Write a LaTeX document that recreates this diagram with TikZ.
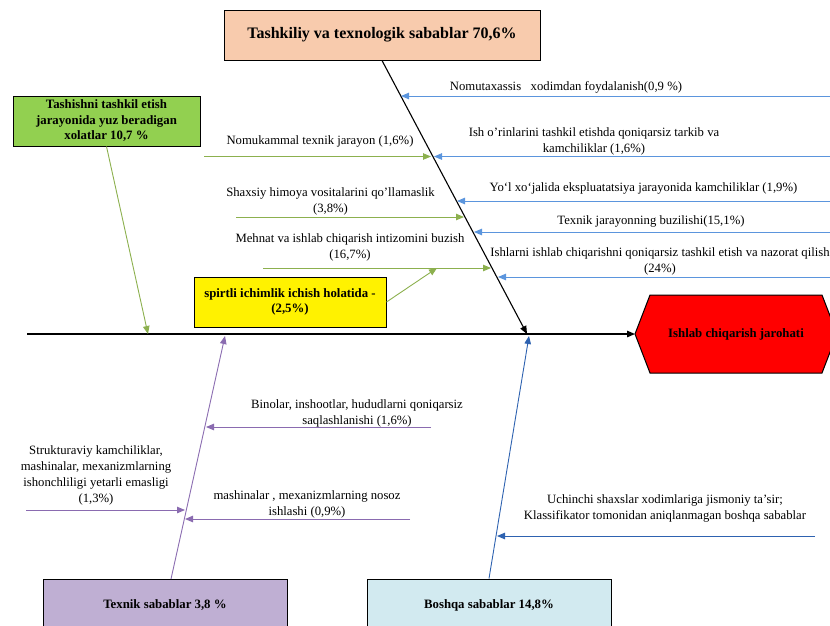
\documentclass[tikz,border=0pt]{standalone}
\usepackage{fontspec}
\setmainfont{Liberation Serif}
\usetikzlibrary{arrows.meta,calc}
\definecolor{peach}{HTML}{F8CBAD}
\definecolor{grfill}{HTML}{92D050}
\definecolor{pufill}{HTML}{BFAFD3}
\definecolor{blfill}{HTML}{D2EAF0}
\definecolor{lblue}{HTML}{5B95DD}
\definecolor{gline}{HTML}{8CB04E}
\definecolor{pline}{HTML}{8A6BB0}
\definecolor{dblue}{HTML}{2E62B0}
\begin{document}
\begin{tikzpicture}[x=1pt,y=-1pt,
  boxst/.style={draw=black,line width=1pt,inner sep=0pt,align=center,
    font=\fontsize{12.8}{15.5}\selectfont\bfseries},
  lbl/.style={align=center,inner sep=0pt,font=\fontsize{12.7}{16}\selectfont},
  arr/.style={-{Triangle[length=8pt,width=6.5pt]},line width=0.9pt}]
\useasboundingbox (0,0) rectangle (830,625);
\clip (0,0) rectangle (830,625);

% boxes
\node[boxst,fill=peach,minimum width=316,minimum height=50,
  font=\fontsize{16}{19}\selectfont\bfseries] (org) at (382,35) {Tashkiliy va texnologik sabablar 70,6\%};
\node[boxst,fill=grfill,minimum width=187,minimum height=50] (grn) at (106.5,121)
  {Tashishni tashkil etish\\jarayonida yuz beradigan\\xolatlar 10,7 \%};
\node[boxst,fill=yellow,minimum width=192,minimum height=50] (yel) at (290,302)
  {spirtli ichimlik ichish holatida -\\(2,5\%)};
\node[boxst,fill=pufill,minimum width=244,minimum height=52] (pur) at (165,605) {Texnik sabablar 3,8 \%};
\node[boxst,fill=blfill,minimum width=244,minimum height=52] (blu) at (489,605) {Boshqa sabablar 14,8\%};

% hexagon
\draw[fill=red,line width=1pt] (635,334) -- (650,295) -- (822,295) -- (837,334) -- (822,373) -- (650,373) -- cycle;
\node[boxst,draw=none] (hex) at (736,334) {Ishlab chiqarish jarohati};
\coordinate (hexL) at (635,334);

% main line and spines
\coordinate (mainL) at (27,334);
\draw[arr,line width=1.3pt] (mainL) -- (hexL);
\coordinate (spE) at (527,334);
\draw[arr,line width=1.1pt] (org.south) -- (spE);
\coordinate (gE) at (148,334);
\draw[arr,gline] (grn.south) -- (gE);
\coordinate (pS) at (171,579);
\coordinate (pE) at (225,336);
\draw[arr,pline] (pS) -- (pE);
\coordinate (bE) at (529,336);
\draw[arr,dblue] (blu.north) -- (bE);

% blue cause arrows
\coordinate (b1s) at (832,96);  \coordinate (b1e) at (401,96);
\coordinate (b2s) at (832,156.5); \coordinate (b2e) at (434,156.5);
\coordinate (b3s) at (832,201); \coordinate (b3e) at (457,201);
\coordinate (b4s) at (832,232); \coordinate (b4e) at (474,232);
\coordinate (b5s) at (832,277); \coordinate (b5e) at (498,277);
\foreach \i in {1,...,5} \draw[arr,lblue] (b\i s) -- (b\i e);
\node[lbl] (t1) at (566,87) {Nomutaxassis\ \ \ xodimdan foydalanish(0,9 \%)};
\node[lbl] (t2) at (594,141) {Ish o'rinlarini tashkil etishda qoniqarsiz tarkib va\\kamchiliklar (1,6\%)};
\node[lbl] (t3) at (643.5,188) {Yo‘l xo‘jalida ekspluatatsiya jarayonida kamchiliklar (1,9\%)};
\node[lbl] (t4) at (651,221) {Texnik jarayonning buzilishi(15,1\%)};
\node[lbl] (t5) at (660,261.5) {Ishlarni ishlab chiqarishni qoniqarsiz tashkil etish va nazorat qilish\\(24\%)};

% green cause arrows
\coordinate (g1s) at (204,156.5); \coordinate (g1e) at (431,156.5);
\coordinate (g2s) at (236,217); \coordinate (g2e) at (464,217);
\coordinate (g3s) at (263,268); \coordinate (g3e) at (491,268);
\foreach \i in {1,2,3} \draw[arr,gline] (g\i s) -- (g\i e);
\coordinate (yE) at (437,268);
\draw[arr,gline] (yel.east) -- (yE);
\node[lbl] (t6) at (320,141) {Nomukammal texnik jarayon (1,6\%)};
\node[lbl] (t7) at (330.5,201) {Shaxsiy himoya vositalarini qo'llamaslik\\(3,8\%)};
\node[lbl] (t8) at (350,247) {Mehnat va ishlab chiqarish intizomini buzish\\(16,7\%)};

% purple cause arrows
\coordinate (p1s) at (431,427); \coordinate (p1e) at (206,427);
\coordinate (p2s) at (26,510); \coordinate (p2e) at (185,510);
\coordinate (p3s) at (410,519); \coordinate (p3e) at (185,519);
\foreach \i in {1,2,3} \draw[arr,pline] (p\i s) -- (p\i e);
\node[lbl] (t9) at (357,413) {Binolar, inshootlar, hududlarni qoniqarsiz\\saqlashlanishi (1,6\%)};
\node[lbl] (t10) at (96,475) {Strukturaviy kamchiliklar,\\mashinalar, mexanizmlarning\\ishonchliligi yetarli emasligi\\(1,3\%)};
\node[lbl] (t11) at (307,504.5) {mashinalar , mexanizmlarning nosoz\\ishlashi (0,9\%)};

% dark blue cause arrow
\coordinate (d1s) at (815,536); \coordinate (d1e) at (497,536);
\draw[arr,dblue] (d1s) -- (d1e);
\node[lbl] (t12) at (665,508) {Uchinchi shaxslar xodimlariga jismoniy ta'sir;\\Klassifikator tomonidan aniqlanmagan boshqa sabablar};
\end{tikzpicture}
\end{document}
